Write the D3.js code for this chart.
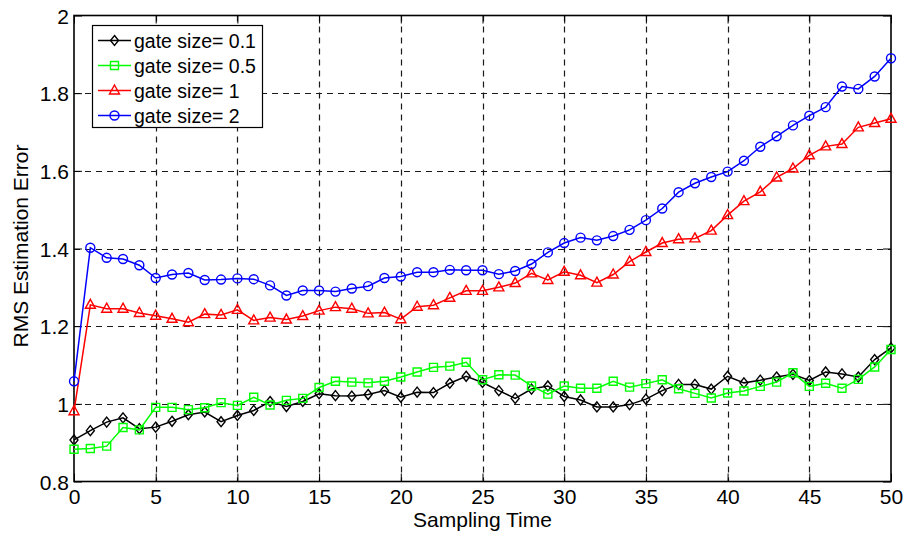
<!DOCTYPE html>
<html>
<head>
<meta charset="utf-8">
<script src="https://cdn.jsdelivr.net/npm/d3@7"></script>
<style>
  html, body { margin: 0; padding: 0; background: #fff; }
  svg { display: block; font-family: "Liberation Sans", Arial, Helvetica, sans-serif; }
</style>
</head>
<body>
<svg id="chart" width="908" height="540"></svg>
<script>
// Sampling instants 0..50
const samplingTime = d3.range(0, 51);

// RMS estimation error per gate size
const gate01 = [0.907, 0.931, 0.953, 0.964, 0.936, 0.940, 0.955, 0.972, 0.979, 0.954,
  0.970, 0.983, 1.006, 0.993, 1.006, 1.026, 1.021, 1.020, 1.024, 1.034,
  1.017, 1.030, 1.029, 1.053, 1.071, 1.055, 1.034, 1.014, 1.038, 1.046,
  1.019, 1.010, 0.992, 0.992, 0.998, 1.012, 1.034, 1.050, 1.050, 1.038,
  1.071, 1.054, 1.061, 1.069, 1.076, 1.060, 1.082, 1.077, 1.069, 1.114, 1.144];

const gate05 = [0.883, 0.885, 0.891, 0.939, 0.933, 0.991, 0.991, 0.985, 0.990, 1.003,
  0.996, 1.017, 0.997, 1.009, 1.014, 1.042, 1.058, 1.056, 1.054, 1.058,
  1.069, 1.082, 1.094, 1.097, 1.107, 1.062, 1.075, 1.074, 1.046, 1.025,
  1.046, 1.040, 1.040, 1.058, 1.043, 1.052, 1.062, 1.039, 1.027, 1.015,
  1.028, 1.033, 1.045, 1.056, 1.080, 1.045, 1.053, 1.040, 1.063, 1.095, 1.140];

const gate1 = [0.981, 1.255, 1.245, 1.245, 1.234, 1.227, 1.219, 1.210, 1.231, 1.229,
  1.242, 1.215, 1.222, 1.217, 1.226, 1.240, 1.249, 1.245, 1.233, 1.235,
  1.218, 1.250, 1.254, 1.273, 1.291, 1.291, 1.300, 1.311, 1.336, 1.319,
  1.340, 1.331, 1.312, 1.333, 1.366, 1.391, 1.414, 1.424, 1.426, 1.446,
  1.486, 1.522, 1.546, 1.583, 1.606, 1.640, 1.663, 1.669, 1.712, 1.723, 1.734];

const gate2 = [1.058, 1.402, 1.376, 1.373, 1.357, 1.324, 1.333, 1.337, 1.319, 1.320,
  1.323, 1.321, 1.305, 1.279, 1.292, 1.292, 1.289, 1.297, 1.303, 1.324,
  1.328, 1.339, 1.339, 1.345, 1.344, 1.344, 1.334, 1.342, 1.360, 1.390,
  1.414, 1.428, 1.421, 1.432, 1.448, 1.473, 1.503, 1.545, 1.568, 1.584,
  1.598, 1.626, 1.662, 1.689, 1.717, 1.742, 1.764, 1.817, 1.811, 1.843, 1.890];

const seriesNames = ["gate size= 0.1", "gate size= 0.5", "gate size= 1", "gate size= 2"];
const seriesColors = ["#000000", "#00ff00", "#ff0000", "#0000ff"];
const seriesMarkers = ["diamond", "square", "triangle", "circle"];

const xTicks = [0, 5, 10, 15, 20, 25, 30, 35, 40, 45, 50];
const yTicks = [0.8, 1, 1.2, 1.4, 1.6, 1.8, 2];

const series = [gate01, gate05, gate1, gate2].map((vals, k) => ({
  name: seriesNames[k], color: seriesColors[k], marker: seriesMarkers[k],
  points: vals.map((v, i) => ({ t: samplingTime[i], v }))
}));

const svg = d3.select("#chart");
const plot = { left: 74, top: 15.5, right: 891, bottom: 481.5 };
const FONT = "'Liberation Sans', Arial, Helvetica, sans-serif";

const x = d3.scaleLinear().domain([0, 50]).range([plot.left, plot.right]);
const y = d3.scaleLinear().domain([0.8, 2]).range([plot.bottom, plot.top]);

// dashed grid
const grid = svg.append("g");
grid.selectAll("line.gx").data(xTicks.slice(1, -1)).join("line")
  .attr("x1", d => Math.round(x(d)) + 0.5).attr("x2", d => Math.round(x(d)) + 0.5)
  .attr("y1", plot.top).attr("y2", plot.bottom)
  .attr("stroke", "#1a1a1a").attr("stroke-width", 1.2).attr("stroke-dasharray", "6,5");
grid.selectAll("line.gy").data(yTicks.slice(1, -1)).join("line")
  .attr("y1", d => Math.round(y(d)) + 0.5).attr("y2", d => Math.round(y(d)) + 0.5)
  .attr("x1", plot.left).attr("x2", plot.right)
  .attr("stroke", "#1a1a1a").attr("stroke-width", 1.2).attr("stroke-dasharray", "6,5");

// axes with inward ticks, mirrored on top and right
const fmt = d => String(+d.toFixed(1));
const axB = svg.append("g").attr("transform", `translate(0,${plot.bottom})`)
  .call(d3.axisBottom(x).tickValues(xTicks).tickSize(-8).tickPadding(8).tickFormat(fmt));
const axL = svg.append("g").attr("transform", `translate(${plot.left},0)`)
  .call(d3.axisLeft(y).tickValues(yTicks).tickSize(-8).tickPadding(5).tickFormat(fmt));
const axT = svg.append("g").attr("transform", `translate(0,${plot.top})`)
  .call(d3.axisTop(x).tickValues(xTicks).tickSize(-8).tickFormat(""));
const axR = svg.append("g").attr("transform", `translate(${plot.right},0)`)
  .call(d3.axisRight(y).tickValues(yTicks).tickSize(-8).tickFormat(""));
[axB, axL, axT, axR].forEach(g => {
  g.select(".domain").remove();
  g.selectAll(".tick line").attr("stroke", "#000").attr("stroke-width", 1);
  g.selectAll(".tick text").attr("fill", "#000").style("font-size", "21px")
    .style("font-family", FONT);
});
axL.selectAll(".tick text").attr("dy", "0.36em");

// frame
svg.append("rect")
  .attr("x", plot.left).attr("y", plot.top)
  .attr("width", plot.right - plot.left).attr("height", plot.bottom - plot.top)
  .attr("fill", "none").attr("stroke", "#000").attr("stroke-width", 1.6);

// axis titles
svg.append("text").attr("x", (plot.left + plot.right) / 2).attr("y", 527)
  .attr("text-anchor", "middle").style("font-size", "21px").text("Sampling Time");
svg.append("text").attr("transform", "translate(28,246) rotate(-90)")
  .attr("text-anchor", "middle").style("font-size", "21px").text("RMS Estimation Error");

// marker glyphs
function markerPath(type) {
  if (type === "diamond") return "M0,-5L4,0L0,5L-4,0Z";
  if (type === "square") return "M-4,-4H4V4H-4Z";
  if (type === "triangle") return "M0,-5.5L5,3.5H-5Z";
  return d3.arc()({ innerRadius: 0, outerRadius: 4.5, startAngle: 0, endAngle: 2 * Math.PI });
}

const line = d3.line().x(d => x(d.t)).y(d => y(d.v));
const sg = svg.append("g");
series.forEach(s => {
  sg.append("path").datum(s.points).attr("d", line)
    .attr("fill", "none").attr("stroke", s.color).attr("stroke-width", 1.5);
  sg.append("g").selectAll("path").data(s.points).join("path")
    .attr("transform", d => `translate(${x(d.t)},${y(d.v)})`)
    .attr("d", markerPath(s.marker))
    .attr("fill", "none").attr("stroke", s.color).attr("stroke-width", 1.4);
});

// legend
const leg = svg.append("g");
leg.append("rect").attr("x", 92.5).attr("y", 25.5).attr("width", 170).attr("height", 102)
  .attr("fill", "#fff").attr("stroke", "#000").attr("stroke-width", 1.2);
series.forEach((s, k) => {
  const cy = 40.5 + k * 25;
  leg.append("line").attr("x1", 98).attr("x2", 131).attr("y1", cy).attr("y2", cy)
    .attr("stroke", s.color).attr("stroke-width", 1.5);
  leg.append("path").attr("transform", `translate(114.5,${cy})`).attr("d", markerPath(s.marker))
    .attr("fill", "none").attr("stroke", s.color).attr("stroke-width", 1.4);
  leg.append("text").attr("x", 134).attr("y", cy).attr("dy", "0.36em")
    .style("font-size", "19.5px").text(s.name);
});
</script>
</body>
</html>
